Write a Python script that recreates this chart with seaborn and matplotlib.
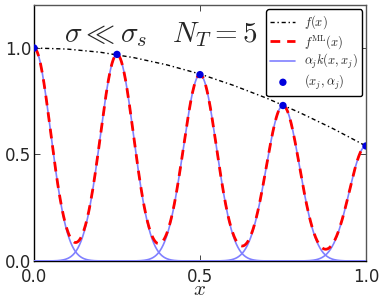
import numpy as np
import pandas as pd
import matplotlib
matplotlib.use("Agg")
import matplotlib.pyplot as plt
import seaborn as sns

# target function f(x)
f_x = [0.0, 0.1, 0.2, 0.3, 0.4, 0.5, 0.6, 0.7, 0.8, 0.9, 1.0]
f_y = [1.0, 0.995, 0.98, 0.955, 0.921, 0.878, 0.825, 0.765, 0.697, 0.622, 0.54]

# training points (x_j, alpha_j)
x_j = [0.0, 0.25, 0.5, 0.75, 1.0]
alpha_j = [1.0, 0.97, 0.875, 0.73, 0.54]
sigma = 0.05  # kernel width read from the bump shape

sns.set_style("ticks")
plt.rcParams["mathtext.fontset"] = "cm"
plt.rcParams["font.family"] = ["DejaVu Sans"]

fig, ax = plt.subplots(figsize=(3.82, 3.01), dpi=100)
fig.subplots_adjust(left=0.089, right=0.958, bottom=0.133, top=0.982)

xs = np.linspace(0, 1, 600)
kernels = []
for xc, a in zip(x_j, alpha_j):
    kernels.append(a * np.exp(-(xs - xc) ** 2 / (2 * sigma ** 2)))
f_ml = np.sum(kernels, axis=0)

sns.lineplot(x=f_x, y=f_y, ax=ax, color="black", linestyle=(0, (3, 2, 1, 2)), lw=1,
             label=r"$f(x)$")
sns.lineplot(x=xs, y=f_ml, ax=ax, color="red", linestyle=(0, (3.5, 2.5)), lw=2,
             label=r"$f^{\rm ML}(x)$", zorder=4)
for i, k in enumerate(kernels):
    sns.lineplot(x=xs, y=k, ax=ax, color="#8080ff", lw=1.2,
                 label=r"$\alpha_j k(x,x_j)$" if i == 0 else None, zorder=3)
sns.scatterplot(x=x_j, y=alpha_j, ax=ax, color="#0000dd", s=28, edgecolor="none",
                label=r"$(x_j,\alpha_j)$", zorder=5)

ax.text(0.09, 1.03, r"$\sigma \ll \sigma_s$", fontsize=21)
ax.text(0.415, 1.03, r"$N_T = 5$", fontsize=21)

ax.set_xlim(0, 1)
ax.set_ylim(0, 1.2)
ax.set_xticks([0.0, 0.5, 1.0])
ax.set_yticks([0.0, 0.5, 1.0])
ax.tick_params(direction="in", top=True, right=True, labelsize=12, length=4, width=0.6)
ax.tick_params(axis="y", pad=2)
ax.tick_params(axis="x", pad=5)
ax.set_xlabel(r"$x$", fontsize=15, labelpad=-5)
for name, s in ax.spines.items():
    s.set_color("black" if name in ("left", "bottom") else "#555555")
    s.set_linewidth(1)

leg = ax.legend(loc="upper right", fontsize=9, frameon=True, fancybox=True,
                handlelength=2.0, handletextpad=0.7, borderpad=0.35,
                labelspacing=0.12, borderaxespad=0.3)
leg.get_frame().set_edgecolor("black")
leg.get_frame().set_alpha(1)

fig.savefig("out.png", dpi=100)
